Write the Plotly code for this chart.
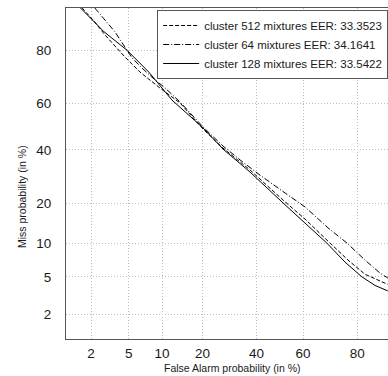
import plotly.graph_objects as go
from statistics import NormalDist

nd = NormalDist()

def probit(p):
    return [nd.inv_cdf(v / 100.0) for v in p]

# False alarm (%) and miss (%) for each system
fa_512 = [1.57, 2.2, 2.86, 3.65, 4.6, 6.4, 9.6, 13.9, 20.2, 26.8, 37.3, 51.4, 60.8, 70.0, 77.1, 82.3, 88.0]
miss_512 = [90.4, 87.5, 84.3, 81.2, 77.8, 72.6, 66.5, 60.3, 49.0, 40.8, 31.8, 21.1, 15.6, 10.5, 7.2, 5.3, 4.2]

fa_64 = [2.2, 2.86, 3.65, 4.6, 5.4, 6.7, 8.2, 10.6, 13.9, 20.2, 26.8, 33.3, 41.5, 52.3, 60.8, 70.0, 76.8, 82.3, 86.2, 88.0]
miss_64 = [90.4, 87.9, 85.1, 80.9, 77.5, 74.0, 70.7, 66.5, 60.7, 49.9, 41.7, 35.8, 29.8, 23.4, 19.0, 13.4, 10.1, 7.2, 5.45, 4.87]

fa_128 = [1.5, 2.8, 4.8, 7.7, 12.0, 20.2, 26.8, 37.3, 51.4, 60.8, 69.6, 76.1, 81.4, 85.0, 88.0]
miss_128 = [90.4, 85.1, 80.0, 72.6, 61.6, 49.5, 40.4, 31.0, 20.2, 14.6, 10.1, 6.9, 5.0, 4.1, 3.6]

names = ["cluster 512 mixtures EER: 33.3523",
         "cluster 64 mixtures EER: 34.1641",
         "cluster 128 mixtures EER: 33.5422"]

tick_pct = [2, 5, 10, 20, 40, 60, 80]
tick_text = ["2", "5", "10", "20", "40", "60", "80"]

FONT = "Liberation Sans, Arial, Helvetica, sans-serif"

fig = go.Figure()
fig.add_trace(go.Scatter(x=probit(fa_512), y=probit(miss_512), mode="lines", name=names[0],
                         line=dict(color="black", width=1, dash="4px,2px")))
fig.add_trace(go.Scatter(x=probit(fa_64), y=probit(miss_64), mode="lines", name=names[1],
                         line=dict(color="black", width=1, dash="6px,2px,1px,2px")))
fig.add_trace(go.Scatter(x=probit(fa_128), y=probit(miss_128), mode="lines", name=names[2],
                         line=dict(color="black", width=1)))

axis_common = dict(
    tickvals=probit(tick_pct), ticktext=tick_text,
    showgrid=True, gridcolor="#bdbdbd", griddash="1px,2px", gridwidth=1,
    zeroline=False, showline=True, linecolor="#555555", linewidth=1,
    ticks="", automargin=False,
    tickfont=dict(family=FONT, size=13.5, color="#1a1a1a"),
)

fig.update_xaxes(range=[nd.inv_cdf(0.01), 1.177], mirror=True, ticklabelstandoff=2, **axis_common)
fig.update_yaxes(range=[nd.inv_cdf(0.01), 1.303], mirror=False, ticklabelstandoff=11, **axis_common)

fig.update_layout(
    width=388, height=376,
    margin=dict(l=66, r=0, t=8, b=37, autoexpand=False),
    paper_bgcolor="white", plot_bgcolor="white",
    showlegend=True,
    legend=dict(x=0.283, y=0.994, xanchor="left", yanchor="top",
                bgcolor="white", bordercolor="#555555", borderwidth=1,
                itemwidth=36,
                font=dict(family=FONT, size=11.5, color="#1a1a1a")),
    annotations=[
        dict(text="False Alarm probability (in %)", xref="paper", yref="paper",
             x=(232 - 66) / 322, y=(339 - 368) / 331, xanchor="center", yanchor="middle",
             showarrow=False, font=dict(family=FONT, size=10.5, color="#1a1a1a")),
        dict(text="Miss probability (in %)", xref="paper", yref="paper",
             x=(22 - 66) / 322, y=(339 - 197) / 331, xanchor="center", yanchor="middle",
             textangle=-90, showarrow=False, font=dict(family=FONT, size=10.5, color="#1a1a1a")),
    ],
)

fig.write_html("out.html", config={"displayModeBar": False},
               post_script="document.body.style.margin='0';document.body.style.overflow='hidden';")
